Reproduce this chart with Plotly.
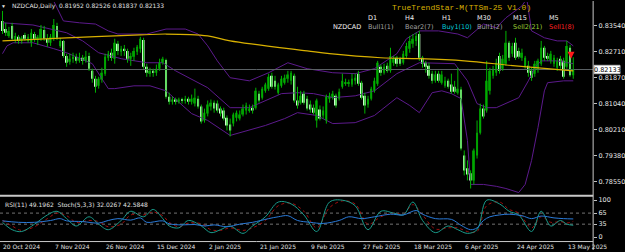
import plotly.graph_objects as go

# ---------------- data (NZDCAD daily) ----------------
opens = [0.8369,0.8343,0.8321,0.8353,0.8308,0.8318,0.8305,0.8324,0.8305,0.8299,
 0.8327,0.8308,0.8312,0.8340,0.8312,0.8299,0.8312,0.8353,0.8289,0.8305,
 0.8257,0.8238,0.8248,0.8254,0.8241,0.8251,0.8241,0.8257,0.8209,0.8184,
 0.8161,0.8181,0.8200,0.8251,0.8267,0.8248,0.8296,0.8270,0.8280,0.8273,
 0.8248,0.8254,0.8270,0.8280,0.8308,0.8222,0.8200,0.8209,0.8203,0.8216,
 0.8235,0.8244,0.8126,0.8110,0.8117,0.8110,0.8117,0.8114,0.8120,0.8110,
 0.8104,0.8120,0.8095,0.8050,0.8072,0.8095,0.8107,0.8104,0.8088,0.8082,
 0.8059,0.8037,0.8040,0.8059,0.8056,0.8069,0.8082,0.8082,0.8091,0.8091,
 0.8136,0.8123,0.8145,0.8152,0.8193,0.8177,0.8139,0.8161,0.8171,0.8184,
 0.8177,0.8193,0.8114,0.8107,0.8136,0.8120,0.8101,0.8091,0.8050,0.8085,
 0.8066,0.8050,0.8120,0.8123,0.8129,0.8120,0.8158,0.8168,0.8168,0.8165,
 0.8177,0.8200,0.8171,0.8129,0.8101,0.8120,0.8145,0.8168,0.8222,0.8203,
 0.8225,0.8209,0.8235,0.8251,0.8248,0.8235,0.8257,0.8280,0.8296,0.8305,
 0.8327,0.8251,0.8235,0.8225,0.8200,0.8177,0.8200,0.8171,0.8161,0.8177,
 0.8165,0.8158,0.8139,0.8149,0.7938,0.7897,0.7881,0.7858,0.7938,0.8011,
 0.8088,0.8082,0.8145,0.8193,0.8203,0.8257,0.8216,0.8232,0.8299,0.8264,
 0.8299,0.8273,0.8251,0.8222,0.8225,0.8209,0.8200,0.8216,0.8232,0.8283,
 0.8257,0.8241,0.8232,0.8219,0.8248,0.8241,0.8222,0.8283,0.81952]
highs = [0.8401,0.8363,0.8350,0.8363,0.8331,0.8324,0.8321,0.8331,0.8327,0.8343,
 0.8334,0.8324,0.8356,0.8353,0.8327,0.8327,0.8375,0.8363,0.8315,0.8308,
 0.8264,0.8264,0.8267,0.8264,0.8267,0.8260,0.8273,0.8267,0.8216,0.8193,
 0.8190,0.8219,0.8264,0.8273,0.8280,0.8312,0.8305,0.8289,0.8292,0.8280,
 0.8267,0.8283,0.8292,0.8318,0.8315,0.8232,0.8219,0.8216,0.8229,0.8248,
 0.8254,0.8248,0.8139,0.8126,0.8123,0.8123,0.8123,0.8129,0.8126,0.8133,
 0.8152,0.8129,0.8101,0.8088,0.8114,0.8117,0.8114,0.8114,0.8095,0.8091,
 0.8066,0.8056,0.8075,0.8082,0.8082,0.8101,0.8107,0.8101,0.8101,0.8155,
 0.8145,0.8158,0.8171,0.8200,0.8203,0.8193,0.8171,0.8193,0.8197,0.8209,
 0.8209,0.8200,0.8158,0.8145,0.8145,0.8129,0.8114,0.8101,0.8120,0.8098,
 0.8095,0.8133,0.8139,0.8145,0.8136,0.8152,0.8200,0.8184,0.8181,0.8200,
 0.8200,0.8209,0.8177,0.8139,0.8129,0.8158,0.8187,0.8241,0.8229,0.8232,
 0.8235,0.8283,0.8257,0.8257,0.8254,0.8273,0.8299,0.8321,0.8327,0.8331,
 0.8337,0.8257,0.8241,0.8235,0.8209,0.8209,0.8209,0.8209,0.8190,0.8184,
 0.8200,0.8177,0.8219,0.8158,0.7954,0.7922,0.7890,0.7960,0.8050,0.8104,
 0.8101,0.8241,0.8219,0.8225,0.8248,0.8267,0.8260,0.8337,0.8305,0.8299,
 0.8315,0.8283,0.8280,0.8257,0.8241,0.8219,0.8241,0.8248,0.8305,0.8289,
 0.8267,0.8273,0.8260,0.8251,0.8257,0.8251,0.8305,0.8292,0.82526]
lows = [0.8327,0.8321,0.8315,0.8305,0.8299,0.8296,0.8296,0.8305,0.8299,0.8286,
 0.8302,0.8292,0.8305,0.8305,0.8286,0.8289,0.8305,0.8308,0.8283,0.8251,
 0.8222,0.8229,0.8235,0.8232,0.8235,0.8229,0.8235,0.8209,0.8171,0.8139,
 0.8152,0.8171,0.8193,0.8241,0.8241,0.8232,0.8260,0.8257,0.8257,0.8235,
 0.8225,0.8241,0.8260,0.8267,0.8216,0.8190,0.8190,0.8190,0.8193,0.8209,
 0.8229,0.8120,0.8101,0.8101,0.8101,0.8104,0.8104,0.8104,0.8101,0.8101,
 0.8095,0.8088,0.8040,0.8043,0.8063,0.8082,0.8075,0.8075,0.8063,0.8050,
 0.8018,0.7999,0.8031,0.8047,0.8050,0.8063,0.8069,0.8075,0.8072,0.8085,
 0.8107,0.8117,0.8139,0.8145,0.8152,0.8149,0.8133,0.8155,0.8165,0.8171,
 0.8165,0.8107,0.8088,0.8101,0.8101,0.8082,0.8075,0.8069,0.8027,0.8050,
 0.8056,0.8040,0.8107,0.8117,0.8091,0.8114,0.8152,0.8161,0.8158,0.8158,
 0.8165,0.8161,0.8117,0.8072,0.8091,0.8114,0.8139,0.8161,0.8193,0.8197,
 0.8203,0.8203,0.8225,0.8222,0.8225,0.8229,0.8251,0.8267,0.8283,0.8289,
 0.8241,0.8219,0.8203,0.8184,0.8168,0.8171,0.8171,0.8165,0.8155,0.8152,
 0.8136,0.8136,0.8133,0.7954,0.7874,0.7858,0.7832,0.7845,0.7928,0.8005,
 0.8056,0.8075,0.8133,0.8184,0.8193,0.8200,0.8209,0.8225,0.8241,0.8254,
 0.8244,0.8248,0.8241,0.8216,0.8190,0.8177,0.8190,0.8203,0.8225,0.8241,
 0.8241,0.8232,0.8222,0.8209,0.8216,0.8184,0.8216,0.8190,0.81837]
closes = [0.8337,0.8331,0.8337,0.8312,0.8321,0.8305,0.8315,0.8312,0.8318,0.8331,
 0.8312,0.8318,0.8343,0.8312,0.8299,0.8318,0.8356,0.8315,0.8305,0.8257,
 0.8235,0.8248,0.8254,0.8241,0.8251,0.8241,0.8254,0.8216,0.8184,0.8158,
 0.8184,0.8203,0.8254,0.8264,0.8251,0.8299,0.8273,0.8280,0.8273,0.8248,
 0.8257,0.8273,0.8286,0.8312,0.8222,0.8203,0.8209,0.8203,0.8216,0.8235,
 0.8248,0.8126,0.8110,0.8117,0.8110,0.8117,0.8114,0.8120,0.8110,0.8120,
 0.8123,0.8095,0.8047,0.8075,0.8101,0.8107,0.8088,0.8082,0.8072,0.8056,
 0.8034,0.8018,0.8069,0.8075,0.8069,0.8088,0.8098,0.8088,0.8082,0.8145,
 0.8114,0.8152,0.8165,0.8190,0.8158,0.8158,0.8165,0.8184,0.8187,0.8197,
 0.8203,0.8114,0.8098,0.8129,0.8107,0.8088,0.8085,0.8075,0.8114,0.8056,
 0.8082,0.8126,0.8129,0.8136,0.8098,0.8142,0.8177,0.8171,0.8171,0.8184,
 0.8187,0.8168,0.8123,0.8098,0.8120,0.8152,0.8177,0.8235,0.8203,0.8222,
 0.8209,0.8257,0.8251,0.8232,0.8232,0.8264,0.8289,0.8305,0.8312,0.8321,
 0.8251,0.8232,0.8222,0.8193,0.8177,0.8197,0.8177,0.8197,0.8177,0.8158,
 0.8142,0.8142,0.8152,0.7960,0.7890,0.7877,0.7858,0.7954,0.8011,0.8088,
 0.8063,0.8177,0.8209,0.8216,0.8235,0.8209,0.8248,0.8299,0.8251,0.8289,
 0.8251,0.8254,0.8267,0.8251,0.8203,0.8187,0.8232,0.8241,0.8283,0.8251,
 0.8248,0.8264,0.8251,0.8241,0.8225,0.8190,0.8289,0.8195,0.82133]

# Bollinger bands (20) and moving average, read at sample bars
bb_idx_up = [0,10,16,19,24,29,33,36,45,51,57,61,64,67,71,77,83,89,95,103,110,116,123,126,130,136,142,145,150,154,157,162,163.5,165,169,173,176,178]
bb_up = [0.8470,0.8455,0.8432,0.8369,0.8363,0.8359,0.8337,0.8327,0.8327,0.8343,0.8343,0.8327,0.8289,0.8241,0.8187,0.8177,0.8203,0.8235,0.8216,0.8203,0.8200,0.8216,0.8264,0.8312,0.8337,0.8337,0.8327,0.8315,0.8359,0.8347,0.8379,0.8417,0.8440,0.8337,0.8315,0.8305,0.8305,0.8289]
bb_idx_mid = [0,9.5,20,25,30,37,45,50,54,61,64,71,77,87,92,97,103,110,116,123,130,141,145,148,151,154,157,161,164,166,168,173,178]
bb_mid = [0.8363,0.8356,0.8331,0.8305,0.8267,0.8248,0.8235,0.8235,0.8209,0.8171,0.8155,0.8091,0.8091,0.8136,0.8139,0.8136,0.8123,0.8129,0.8145,0.8200,0.8235,0.8232,0.8177,0.8104,0.8091,0.8091,0.8104,0.8123,0.8177,0.8219,0.8241,0.8241,0.8232]
bb_idx_lo = [0,1.4,3.3,9.5,16,20,28,33,35,41,46,51,59,64,71,82,88,92,98,103,110,116,123,127,130,134,137,140,143,145,146,150,154,157,161,163,165,167,169,170,175,178]
bb_lo = [0.8264,0.8289,0.8299,0.8299,0.8280,0.8267,0.8232,0.8152,0.8152,0.8161,0.8161,0.8145,0.8072,0.8050,0.8002,0.8034,0.8056,0.8075,0.8066,0.8040,0.8043,0.8066,0.8123,0.8098,0.8075,0.8139,0.8145,0.8136,0.8120,0.7986,0.7845,0.7845,0.7839,0.7832,0.7819,0.7845,0.7922,0.8027,0.8145,0.8171,0.8177,0.8177]
ma_idx = [0,20,43,51,64,71,95,102,118,130,144,160,178]
ma_val = [0.8305,0.8315,0.8324,0.8327,0.8321,0.8305,0.8273,0.8264,0.8251,0.8248,0.8241,0.8225,0.8209]

# RSI(11) and Stochastic(5,3,3)
rsi_idx = [0,5,10,15,18,20,25,30,33,36,40,43,45,50,52,56,60,63,66,70,74,78,83,86,89,92,96,100,105,108,112,116,121,125,129,131,135,140,143,146,148,150,152,155,158,162,165,168,172,175,178]
rsi_val = [44,40,40,45,50,44,42,38,45,50,46,52,40,44,36,33,34,30,33,28,35,40,50,55,58,45,40,37,45,55,50,55,62,60,72,62,50,48,32,20,25,45,55,60,62,58,50,57,52,50,49.2]
st_idx = [0,3,6,10,14,17,20,23,27,30,33,37,40,44,47,50,52,55,58,62,65,68,71,75,78,82,86,90,94,98,102,106,110,114,118,122,125,128,131,135,139,142,145,148,151,155,158,161,165,168,171,174,176,178]
st_main = [40,20,15,35,60,70,50,30,55,35,20,45,70,55,75,50,30,25,45,30,12,20,30,10,30,55,95,90,60,15,95,100,85,20,70,65,60,95,45,12,30,20,10,20,100,90,70,60,15,70,30,45,35,32]
st_sig = [45,30,18,28,50,65,58,40,45,42,28,35,60,60,68,58,40,28,38,36,20,18,25,18,25,45,85,92,70,25,80,98,90,35,55,65,62,88,60,22,25,25,15,15,85,95,75,65,25,55,40,42,38,42.6]

price_ticks = [0.83540,0.82710,0.81870,0.81040,0.80210,0.79380,0.78550]
osc_ticks = [100,65,35,0]
date_idx = [0,16,32,48,64,80,96,112,128,144,160,176]
date_labels = ['20 Oct 2024','7 Nov 2024','26 Nov 2024','15 Dec 2024','2 Jan 2025','21 Jan 2025',
               '9 Feb 2025','27 Feb 2025','18 Mar 2025','6 Apr 2025','24 Apr 2025','13 May 2025']
last_price = 0.82133
header = 'NZDCAD,Daily  0.81952 0.82526 0.81837 0.82133'
osc_header = 'RSI(11) 49.1962  Stoch(5,3,3) 32.0267 42.5848'
tf_names = ['D1','H4','H1','M30','M15','M5']
tf_states = ['Bull1(1)','Bear2(7)','Buy1(10)','Bull1(2)','Sell2(21)','Sell1(8)']
tf_colors = ['#a0a0a0','#a0a0a0','#00c8d8','#a0a0a0','#9acd32','#ff2020']
arrow_bar, arrow_price = 177.3, 0.8248

# ---------------- layout geometry ----------------
W, H = 625, 252
PX = 596                     # right edge of plot area (px)
STEP = 3.222                 # px per bar
X0 = 2.5
def py(pix): return 1 - pix / H
xr = [(0 - X0) / STEP, (PX - X0) / STEP]
top_pix, bot_pix = 1, 194
scale = 3133.0
ymax = 0.8354 + (24.7 - top_pix) / scale
ymin = 0.8354 - (bot_pix - 24.7) / scale
o_top, o_bot = 197, 241
o_scale = 0.37
o_max = (237 - o_top) / o_scale
o_min = -(o_bot - 237) / o_scale

n = len(closes)
xs = list(range(n))
bull = [c >= o for o, c in zip(opens, closes)]
base = [min(o, c) for o, c in zip(opens, closes)]
hgt = [max(abs(c - o), 0.00012) for o, c in zip(opens, closes)]

fig = go.Figure()
band_col = '#5c1a8c'
fig.add_trace(go.Scatter(x=bb_idx_up, y=bb_up, mode='lines', line=dict(color=band_col, width=1), hoverinfo='skip'))
fig.add_trace(go.Scatter(x=bb_idx_mid, y=bb_mid, mode='lines', line=dict(color=band_col, width=1), hoverinfo='skip'))
fig.add_trace(go.Scatter(x=bb_idx_lo, y=bb_lo, mode='lines', line=dict(color=band_col, width=1), hoverinfo='skip'))
fig.add_trace(go.Scatter(x=[xr[0], xr[1]], y=[last_price, last_price], mode='lines',
                         line=dict(color='#5a6064', width=1), hoverinfo='skip'))
wx, wy = [], []
for i in range(n):
    wx += [i, i, None]; wy += [lows[i], highs[i], None]
fig.add_trace(go.Scatter(x=wx, y=wy, mode='lines', line=dict(color='#00b400', width=1), hoverinfo='skip'))
fig.add_trace(go.Bar(x=xs, y=hgt, base=base, width=0.62,
                     marker=dict(color=['#008c00' if b else '#c8ffc8' for b in bull], line=dict(width=0)),
                     hoverinfo='skip'))
fig.add_trace(go.Scatter(x=ma_idx, y=ma_val, mode='lines', line=dict(color='#d8b000', width=1.2, shape='spline'), hoverinfo='skip'))
fig.add_trace(go.Scatter(x=[arrow_bar], y=[arrow_price], mode='markers',
                         marker=dict(symbol='arrow-down', size=7, color='#ff1a1a'), hoverinfo='skip'))

for lv in [65, 35]:
    fig.add_trace(go.Scatter(x=[xr[0], xr[1]], y=[lv, lv], mode='lines', xaxis='x2', yaxis='y2',
                             line=dict(color='#909090', width=0.8, dash='dot'), hoverinfo='skip'))
fig.add_trace(go.Scatter(x=st_idx, y=st_sig, mode='lines', xaxis='x2', yaxis='y2',
                         line=dict(color='#b01010', width=0.9, dash='dot', shape='spline'), hoverinfo='skip'))
fig.add_trace(go.Scatter(x=st_idx, y=st_main, mode='lines', xaxis='x2', yaxis='y2',
                         line=dict(color='#1a9a8a', width=1, shape='spline'), hoverinfo='skip'))
fig.add_trace(go.Scatter(x=rsi_idx, y=rsi_val, mode='lines', xaxis='x2', yaxis='y2',
                         line=dict(color='#2a7ad8', width=1, shape='spline'), hoverinfo='skip'))

tickfont = dict(family='DejaVu Sans', size=6.5, color='#e6e6e6')
fig.update_layout(
    width=W, height=H, margin=dict(l=0, r=0, t=0, b=0),
    paper_bgcolor='black', plot_bgcolor='black', showlegend=False, barmode='overlay',
    xaxis=dict(domain=[0, PX / W], range=xr, showgrid=False, zeroline=False, showticklabels=False,
               anchor='y', fixedrange=True),
    xaxis2=dict(domain=[0, PX / W], range=xr, showgrid=False, zeroline=False, showticklabels=False,
                anchor='y2', fixedrange=True),
    yaxis=dict(domain=[py(bot_pix), py(top_pix)], range=[ymin, ymax], side='right', showgrid=False,
               zeroline=False, tickvals=price_ticks, ticktext=['%.5f' % v for v in price_ticks],
               ticks='outside', ticklen=3, tickcolor='#c0c0c0', tickfont=tickfont, anchor='x'),
    yaxis2=dict(domain=[py(o_bot), py(o_top)], range=[o_min, o_max], side='right', showgrid=False,
                zeroline=False, tickvals=osc_ticks, ticktext=[str(v) for v in osc_ticks],
                ticks='outside', ticklen=3, tickcolor='#c0c0c0', tickfont=tickfont, anchor='x2'),
)

shapes = []
shapes.append(dict(type='line', xref='paper', yref='paper', x0=PX / W, x1=PX / W, y0=py(250), y1=1,
                   line=dict(color='#c8c8c8', width=1)))
shapes.append(dict(type='line', xref='paper', yref='paper', x0=0, x1=PX / W, y0=py(195.5), y1=py(195.5),
                   line=dict(color='#c8c8c8', width=2)))
shapes.append(dict(type='line', xref='paper', yref='paper', x0=0, x1=PX / W, y0=py(241.5), y1=py(241.5),
                   line=dict(color='#c8c8c8', width=1)))
shapes.append(dict(type='rect', xref='paper', yref='y', x0=597 / W, x1=623 / W,
                   y0=last_price - 4.2 / scale, y1=last_price + 4.2 / scale,
                   fillcolor='white', line=dict(color='#c0c0c0', width=1)))
fig.update_layout(shapes=shapes)

ann = []
ann.append(dict(x=610 / W, xref='paper', y=last_price, yref='y', text='%.5f' % last_price, showarrow=False,
                font=dict(family='DejaVu Sans', size=6.5, color='black'), xanchor='center', yanchor='middle'))
ann.append(dict(x=4 / W, xref='paper', y=py(5), yref='paper', text='▼', showarrow=False,
                font=dict(size=5, color='#e0e0e0'), xanchor='center', yanchor='middle'))
ann.append(dict(x=10 / W, xref='paper', y=py(5), yref='paper', text=header, showarrow=False,
                font=dict(family='DejaVu Sans', size=6, color='#e0e0e0'), xanchor='left', yanchor='middle'))
ann.append(dict(x=3 / W, xref='paper', y=py(204), yref='paper', text=osc_header, showarrow=False,
                font=dict(family='DejaVu Sans', size=6, color='#e0e0e0'), xanchor='left', yanchor='middle'))
ann.append(dict(x=464 / W, xref='paper', y=py(7), yref='paper', text='TrueTrendStar-M(TTSm-25 V1.0)', showarrow=False,
                font=dict(family='Liberation Mono', size=8, color='#d8b000'), xanchor='center', yanchor='middle'))
ann.append(dict(x=333 / W, xref='paper', y=py(26), yref='paper', text='NZDCAD', showarrow=False,
                font=dict(family='DejaVu Sans', size=6.5, color='#f0f0f0'), xanchor='left', yanchor='middle'))
col_x = [368, 405, 442, 477, 513, 550]
for cx, nm, st, cl in zip(col_x, tf_names, tf_states, tf_colors):
    ann.append(dict(x=cx / W, xref='paper', y=py(17), yref='paper', text=nm, showarrow=False,
                    font=dict(family='DejaVu Sans', size=6.5, color='#f0f0f0'), xanchor='left', yanchor='middle'))
    ann.append(dict(x=cx / W, xref='paper', y=py(26), yref='paper', text=st, showarrow=False,
                    font=dict(family='DejaVu Sans', size=6.5, color=cl), xanchor='left', yanchor='middle'))
for di, dl in zip(date_idx, date_labels):
    ann.append(dict(x=di, xref='x2', y=py(246.5), yref='paper', text=dl, showarrow=False,
                    font=dict(family='DejaVu Sans', size=6, color='#e0e0e0'), xanchor='left', yanchor='middle', xshift=-1))
fig.update_layout(annotations=ann)

fig.write_html('out.html')
